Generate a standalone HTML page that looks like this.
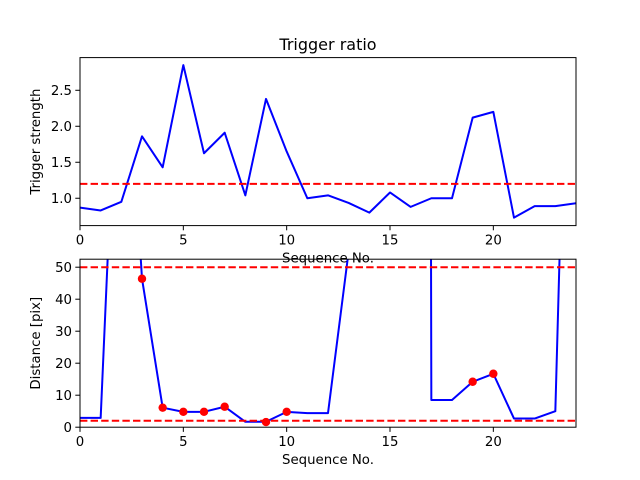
<!DOCTYPE html>
<html><head><meta charset="utf-8"><style>
body{margin:0;background:#fff;}
svg{display:block;font-family:"DejaVu Sans","Liberation Sans",sans-serif;}
</style></head><body>
<svg id="c" width="640" height="480" viewBox="0 0 640 480" xmlns="http://www.w3.org/2000/svg">
<defs>
<clipPath id="clipTop"><rect x="80" y="57.6" width="496" height="168"/></clipPath>
<clipPath id="clipBot"><rect x="80" y="259.2" width="496" height="168"/></clipPath>
</defs>
<rect width="640" height="480" fill="#fff"/>
<g id="top"></g>
<g id="bot"></g>
</svg>
<script>
const seq = [0,1,2,3,4,5,6,7,8,9,10,11,12,13,14,15,16,17,18,19,20,21,22,23,24];
const triggerStrength = [0.87,0.83,0.95,1.86,1.43,2.85,1.625,1.91,1.04,2.38,1.65,1.0,1.04,0.935,0.80,1.08,0.88,1.0,1.0,2.12,2.2,0.73,0.89,0.89,0.93];
const triggerThreshold = 1.2;
const distance = [2.9,2.9,150,46.4,6.1,4.8,4.8,6.4,1.7,1.7,4.8,4.4,4.4,55,300,300,3000,8.5,8.5,14.2,16.7,2.7,2.7,5.0,240];
const dotIdx = [3,4,5,6,7,9,10,19,20];
const dotVals = [46.4,6.1,4.8,4.8,6.4,1.6,4.8,14.2,16.7];
const distThresholds = [50,2];
const xTicks = [0,5,10,15,20];
const topYTicks = [1.0,1.5,2.0,2.5];
const topYLabels = ["1.0","1.5","2.0","2.5"];
const botYTicks = [0,10,20,30,40,50];

const NS="http://www.w3.org/2000/svg";
const L=80,R=576;
const xs=v=>L+(v-0)/(24-0)*(R-L);
function mk(tag,attrs,parent,txt){const e=document.createElementNS(NS,tag);for(const k in attrs)e.setAttribute(k,attrs[k]);if(txt!==undefined)e.textContent=txt;parent.appendChild(e);return e;}

function panel(g,top,bot,ymin,ymax,yTicks,yLabels,ylabel,clip){
  const ys=v=>bot-(v-ymin)/(ymax-ymin)*(bot-top);
  // ticks
  xTicks.forEach((t,i)=>{
    const ln=mk('line',{x1:xs(t),x2:xs(t),y1:bot,y2:bot+4.7,stroke:'#000','stroke-width':1},g);
    
    
    const tx=mk('text',{x:xs(t),y:bot+19,'font-size':13.3,'text-anchor':'middle'},g,String(t));
    
    
  });
  yTicks.forEach((t,i)=>{
    const ln=mk('line',{x1:L-4.7,x2:L,y1:ys(t),y2:ys(t),stroke:'#000','stroke-width':1},g);
    
    
    const tx=mk('text',{x:L-8,y:ys(t)+4.8,'font-size':13.3,'text-anchor':'end'},g,yLabels[i]);
    
    
  });
  const yl=mk('text',{x:0,y:0,'font-size':13.3,'text-anchor':'middle',transform:`translate(40,${(top+bot)/2}) rotate(-90)`},g,ylabel);
  
  
  const xl=mk('text',{x:(L+R)/2,y:bot+37,'font-size':13.3,'text-anchor':'middle'},g,'Sequence No.');
  
  
  const pg=mk('g',{'clip-path':`url(#${clip})`},g);
  return {ys,pg};
}

// top panel
const gt=document.getElementById('top');
const tt=mk('text',{x:328,y:50,'font-size':16,'text-anchor':'middle'},gt,'Trigger ratio');


const T=panel(gt,57.6,225.6,0.62,2.954,topYTicks,topYLabels,'Trigger strength','clipTop');
const tl=mk('polyline',{points:seq.map((s,i)=>xs(s)+','+T.ys(triggerStrength[i])).join(' '),fill:'none',stroke:'#0000ff','stroke-width':2,'stroke-linejoin':'round'},T.pg);


const th=mk('line',{x1:L,x2:R,y1:T.ys(triggerThreshold),y2:T.ys(triggerThreshold),stroke:'#ff0000','stroke-width':2,'stroke-dasharray':'7.4,3.2'},T.pg);


const ft=mk('rect',{x:L,y:57.6,width:R-L,height:168,fill:'none',stroke:'#000','stroke-width':1},gt);



// bottom panel
const gb=document.getElementById('bot');
const B=panel(gb,259.2,427.2,0,52.5,botYTicks,botYTicks.map(String),'Distance [pix]','clipBot');
const bl=mk('polyline',{points:seq.map((s,i)=>xs(s)+','+B.ys(distance[i])).join(' '),fill:'none',stroke:'#0000ff','stroke-width':2,'stroke-linejoin':'round'},B.pg);


distThresholds.forEach(v=>{
  const l=mk('line',{x1:L,x2:R,y1:B.ys(v),y2:B.ys(v),stroke:'#ff0000','stroke-width':2,'stroke-dasharray':'7.4,3.2'},B.pg);
  
  
});
dotIdx.forEach((s,i)=>{
  const c=mk('circle',{cx:xs(s),cy:B.ys(dotVals[i]),r:4.2,fill:'#ff0000'},B.pg);
  
  
});
const fb=mk('rect',{x:L,y:259.2,width:R-L,height:168,fill:'none',stroke:'#000','stroke-width':1},gb);


</script>
</body></html>
